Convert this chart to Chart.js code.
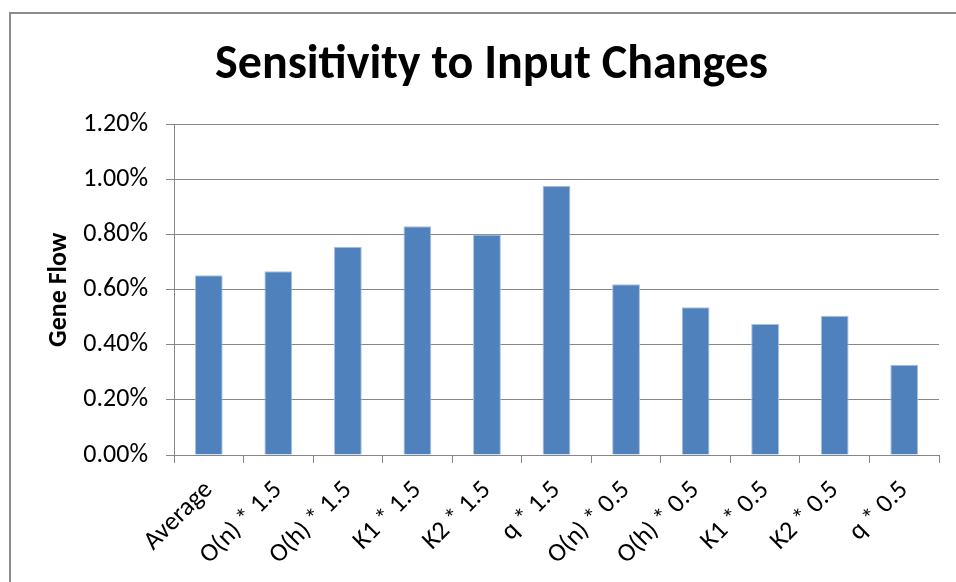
<!DOCTYPE html>
<html lang="en">
<head>
    <meta charset="UTF-8">
    <title>Sensitivity to Input Changes</title>
    <style>
        * { margin: 0; padding: 0; box-sizing: border-box; }
        body { background: #fff; width: 956px; height: 582px; overflow: hidden; }
        .frame { position: absolute; left: 9px; top: 12px; width: 960px; height: 600px;
                 border-left: 2px solid #8c8c8c; border-top: 2px solid #8c8c8c; }
        #chart { position: absolute; left: 0; top: 0; }
    </style>
    <script src="https://cdn.jsdelivr.net/npm/chart.js"></script>
</head>
<body>
    <div class="frame"></div>
    <canvas id="chart" width="956" height="582"></canvas>
    <script>
        // values, in percent
        const categories = ['Average', 'O(n) * 1.5', 'O(h) * 1.5', 'K1 * 1.5', 'K2 * 1.5', 'q * 1.5',
                            'O(n) * 0.5', 'O(h) * 0.5', 'K1 * 0.5', 'K2 * 0.5', 'q * 0.5'];
        const geneFlow = [0.653, 0.667, 0.756, 0.831, 0.801, 0.978, 0.620, 0.537, 0.476, 0.506, 0.328];
        const yTicks = [0, 0.2, 0.4, 0.6, 0.8, 1.0, 1.2];

        const fontFamily = 'Carlito, Lato, sans-serif';
        const gridColor = '#868686';

        new Chart(document.getElementById('chart'), {
            type: 'bar',
            data: {
                labels: categories,
                datasets: [{
                    label: 'Gene Flow',
                    data: geneFlow,
                    backgroundColor: '#4f81bd',
                    borderColor: '#a9c0de',
                    borderWidth: 1,
                    barPercentage: 0.4,
                    categoryPercentage: 1
                }]
            },
            options: {
                responsive: false,
                devicePixelRatio: 1,
                animation: false,
                layout: { padding: { left: 44, right: 17, top: 0, bottom: 0 } },
                plugins: {
                    legend: { display: false },
                    tooltip: { enabled: false },
                    title: {
                        display: true,
                        text: 'Sensitivity to Input Changes',
                        color: '#000',
                        font: { family: fontFamily, size: 48, weight: 'bold', lineHeight: 1.2 },
                        padding: { top: 37, bottom: 30 }
                    }
                },
                scales: {
                    x: {
                        offset: true,
                        grid: { display: true, drawOnChartArea: false, drawTicks: true, tickLength: 8, color: gridColor, offset: true },
                        border: { display: true, color: gridColor, width: 1 },
                        ticks: {
                            autoSkip: false, maxRotation: 45, minRotation: 45,
                            color: '#000', padding: 12,
                            font: { family: fontFamily, size: 26 }
                        },
                        afterFit: scale => { scale.height = 127; }
                    },
                    y: {
                        min: 0,
                        max: 1.2,
                        afterBuildTicks: scale => { scale.ticks = yTicks.map(v => ({ value: v })); },
                        grid: { color: gridColor, lineWidth: 1, tickLength: 8 },
                        border: { display: true, color: gridColor, width: 1 },
                        ticks: {
                            color: '#000', padding: 18,
                            font: { family: fontFamily, size: 26 },
                            callback: v => v.toFixed(2) + '%'
                        },
                        title: {
                            display: true,
                            text: 'Gene Flow',
                            color: '#000',
                            padding: 0,
                            font: { family: fontFamily, size: 26, weight: 'bold', lineHeight: 1.2 }
                        },
                        afterFit: scale => { scale.width = 130; }
                    }
                }
            }
        });
    </script>
</body>
</html>
